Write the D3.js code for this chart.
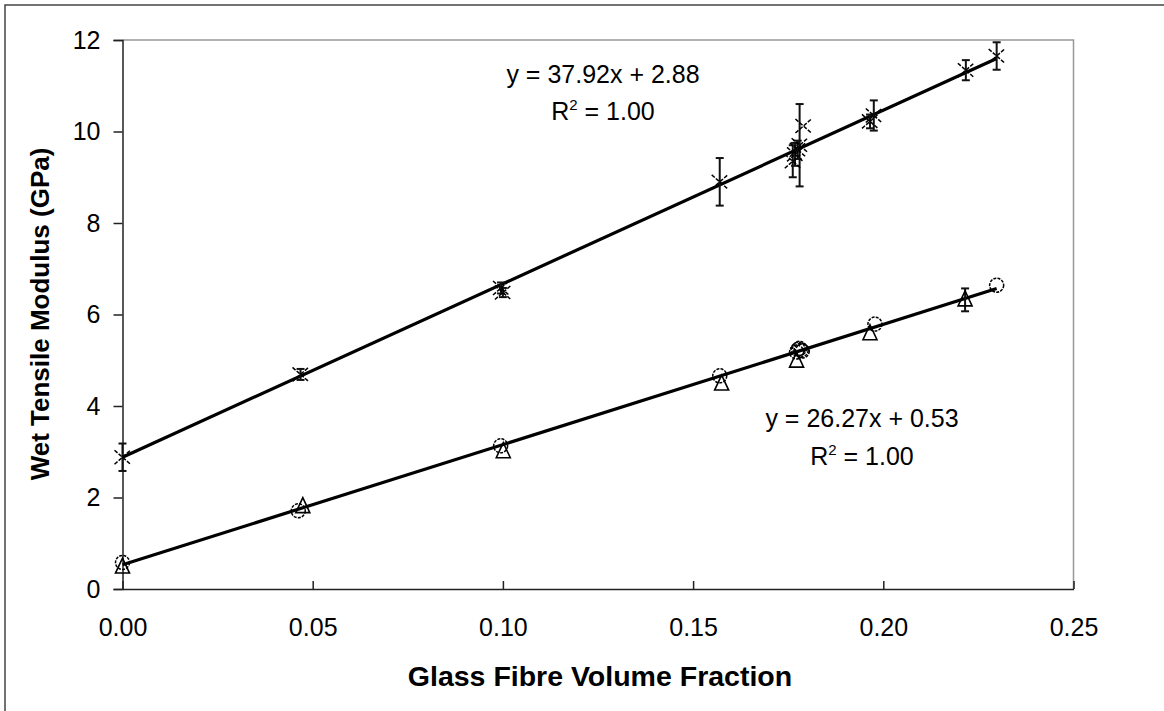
<!DOCTYPE html>
<html>
<head>
<meta charset="utf-8">
<script src="https://cdn.jsdelivr.net/npm/d3@7"></script>
<style>
  html, body { margin: 0; padding: 0; background: #fff; }
  svg { display: block; }
  text { font-family: "Liberation Sans", Arial, sans-serif; fill: #000; }
</style>
</head>
<body>
<svg id="chart" width="1164" height="711"></svg>
<script>
// ---- data ----
const xTicks = [0.00, 0.05, 0.10, 0.15, 0.20, 0.25];
const yTicks = [0, 2, 4, 6, 8, 10, 12];

// upper group (cross markers) : x, y, error half-width
const crossX   = [0.000, 0.0468, 0.0995, 0.1000, 0.1570, 0.1762, 0.1768, 0.1775, 0.1780, 0.1790, 0.1965, 0.1975, 0.2217, 0.2298];
const crossY   = [2.88,  4.69,   6.58,   6.48,   8.90,   9.35,   9.50,   9.60,   9.70,   10.12,  10.22,  10.35,  11.34,  11.65];
const crossErr = [0.30,  0.12,   0.12,   0.10,   0.52,   0.35,   0.25,   0.20,   0.90,   0.00,   0.15,   0.33,   0.22,   0.30];

// lower group (circle markers)
const circleX = [0.000, 0.0462, 0.0994, 0.1570, 0.1772, 0.1776, 0.1780, 0.1784, 0.1787, 0.1978, 0.2298];
const circleY = [0.58,  1.71,   3.13,   4.66,   5.18,   5.24,   5.26,   5.22,   5.20,   5.79,   6.64];

// lower group (triangle markers)
const triX   = [0.000, 0.0474, 0.1001, 0.1575, 0.1772, 0.1965, 0.2215];
const triY   = [0.48,  1.80,   3.00,   4.48,   4.98,   5.58,   6.32];
const triErr = [0.00,  0.00,   0.00,   0.00,   0.00,   0.00,   0.25];

// linear trend lines: slope, intercept, x range
const trendSlope = [37.92, 26.27];
const trendIntercept = [2.88, 0.53];
const trendXMax = [0.2298, 0.2298];
const trendLabels = [["y = 37.92x + 2.88", "1.00"], ["y = 26.27x + 0.53", "1.00"]];

const xTitle = "Glass Fibre Volume Fraction";
const yTitle = "Wet Tensile Modulus (GPa)";

// ---- layout ----
const svg = d3.select("#chart");
const L = 122.5, R = 1073.5, T = 40, B = 589;

const x = d3.scaleLinear().domain([0, 0.25]).range([L, R]);
const y = d3.scaleLinear().domain([0, 12]).range([B, T]);

// outer frame
svg.append("rect").attr("x", 5).attr("y", 5).attr("width", 1180).attr("height", 720)
  .attr("fill", "#fff").attr("stroke", "#444").attr("stroke-width", 1.5);

// plot area border: top & right grey
svg.append("path")
  .attr("d", `M${L},${T}H${R}V${B}`)
  .attr("fill", "none").attr("stroke", "#999").attr("stroke-width", 1.5);

// y axis
const yAxis = d3.axisLeft(y).tickValues(yTicks).tickFormat(d3.format("d")).tickSize(9).tickPadding(13);
const gy = svg.append("g").attr("transform", `translate(${L},0)`).call(yAxis);
gy.select(".domain").attr("stroke", "#222").attr("stroke-width", 1.5);
gy.selectAll(".tick line").attr("stroke", "#222").attr("stroke-width", 1.5);
gy.selectAll(".tick text").attr("font-size", 25).attr("font-family", "Liberation Sans, Arial, sans-serif").attr("fill", "#000");

// x axis (ticks pointing inward)
const xAxis = d3.axisBottom(x).tickValues(xTicks).tickFormat(d3.format(".2f")).tickSize(-8).tickSizeOuter(0).tickPadding(29);
const gx = svg.append("g").attr("transform", `translate(0,${B})`).call(xAxis);
gx.select(".domain").attr("stroke", "#222").attr("stroke-width", 1.5);
gx.selectAll(".tick line").attr("stroke", "#222").attr("stroke-width", 1.5);
gx.selectAll(".tick text").attr("font-size", 25).attr("font-family", "Liberation Sans, Arial, sans-serif").attr("fill", "#000");

// axis titles
svg.append("text").attr("x", 600).attr("y", 686).attr("text-anchor", "middle")
  .attr("font-size", 28.5).attr("font-weight", "bold").text(xTitle);
svg.append("text").attr("transform", "translate(49,314) rotate(-90)").attr("text-anchor", "middle")
  .attr("font-size", 26).attr("font-weight", "bold").text(yTitle);

// trend lines
const plot = svg.append("g");
trendSlope.forEach((m, i) => {
  plot.append("line")
    .attr("x1", x(0)).attr("y1", y(trendIntercept[i]))
    .attr("x2", x(trendXMax[i])).attr("y2", y(trendIntercept[i] + m * trendXMax[i]))
    .attr("stroke", "#000").attr("stroke-width", 3.2);
});

// error bars helper
function errorBars(xs, ys, es) {
  const g = plot.append("g").attr("stroke", "#111").attr("stroke-width", 2);
  xs.forEach((xv, i) => {
    if (!es[i]) return;
    const cx = x(xv), y1 = y(ys[i] + es[i]), y2 = y(ys[i] - es[i]);
    g.append("line").attr("x1", cx).attr("x2", cx).attr("y1", y1).attr("y2", y2);
    g.append("line").attr("x1", cx - 4).attr("x2", cx + 4).attr("y1", y1).attr("y2", y1);
    g.append("line").attr("x1", cx - 4).attr("x2", cx + 4).attr("y1", y2).attr("y2", y2);
  });
}
errorBars(crossX, crossY, crossErr);
errorBars(triX, triY, triErr);

// cross markers
plot.append("g").selectAll("path").data(crossX).join("path")
  .attr("transform", (d, i) => `translate(${x(d)},${y(crossY[i])})`)
  .attr("d", "M-8,-7L8,7M-8,7L8,-7")
  .attr("stroke", "#000").attr("stroke-width", 1.5).attr("stroke-dasharray", "4,1.5").attr("fill", "none");

// triangle markers
plot.append("g").selectAll("path").data(triX).join("path")
  .attr("transform", (d, i) => `translate(${x(d)},${y(triY[i])})`)
  .attr("d", "M0,-9L7,6H-7Z")
  .attr("stroke", "#000").attr("stroke-width", 1.6).attr("fill", "none");

// circle markers
plot.append("g").selectAll("circle").data(circleX).join("circle")
  .attr("cx", d => x(d)).attr("cy", (d, i) => y(circleY[i])).attr("r", 7)
  .attr("stroke", "#000").attr("stroke-width", 1.5).attr("stroke-dasharray", "3,1.2").attr("fill", "none");

// trend labels
const labelPos = [[603, 83, 120], [862, 427, 465]];
trendLabels.forEach((lab, i) => {
  const [cx, y1, y2] = labelPos[i];
  svg.append("text").attr("x", cx).attr("y", y1).attr("text-anchor", "middle").attr("font-size", 25).text(lab[0]);
  const t = svg.append("text").attr("x", cx).attr("y", y2).attr("text-anchor", "middle").attr("font-size", 25);
  t.append("tspan").text("R");
  t.append("tspan").attr("font-size", 15).attr("dy", -10).text("2");
  t.append("tspan").attr("dy", 10).text(" = " + lab[1]);
});
</script>
</body>
</html>
